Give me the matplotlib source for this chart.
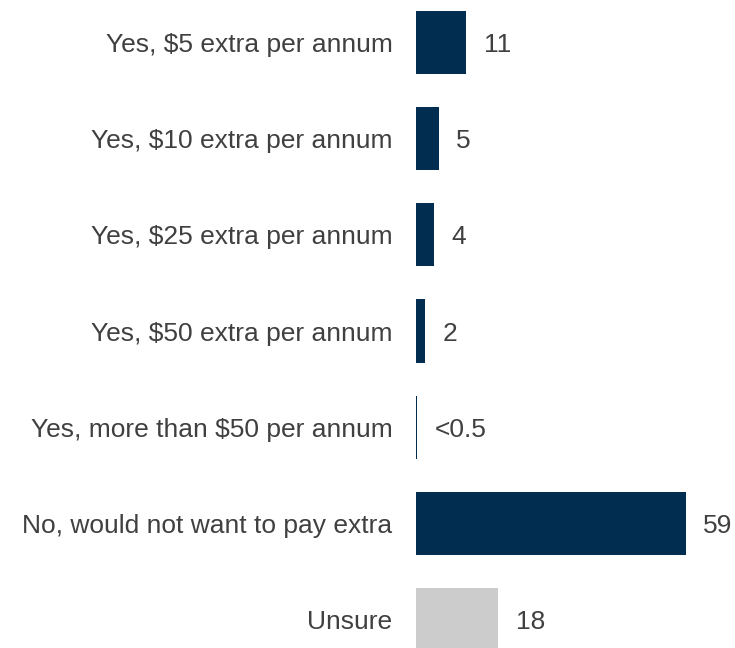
import matplotlib
matplotlib.use("Agg")
import matplotlib.pyplot as plt

categories = ["Yes, $5 extra per annum", "Yes, $10 extra per annum",
              "Yes, $25 extra per annum", "Yes, $50 extra per annum",
              "Yes, more than $50 per annum", "No, would not want to pay extra",
              "Unsure"]
values = [11, 5, 4, 2, 0.2, 59, 18]
value_labels = ["11", "5", "4", "2", "<0.5", "59", "18"]

NAVY = "#002D50"
GREY = "#CDCCCD"
TEXT = "#404040"
colors = [NAVY] * 6 + [GREY]

plt.rcParams["font.family"] = ["Liberation Sans", "DejaVu Sans"]

fig = plt.figure(figsize=(7.35, 6.48), dpi=100)
ax = fig.add_axes([416 / 735, 0, 270 / 735, 1])

ypos = list(range(len(categories)))
ax.barh(ypos, values, height=0.654, color=colors)

for y, v, lab in zip(ypos, values, value_labels):
    ax.annotate(lab, xy=(v, y), xytext=(12.5, 0), textcoords="offset points",
                ha="left", va="center_baseline", fontsize=19, color=TEXT,
                annotation_clip=False)

ax.set_xlim(0, 59)
ax.set_ylim(6 + 28 / 96.33, -42 / 96.33)
ax.set_yticks(ypos)
ax.set_yticklabels(categories, fontsize=19, color=TEXT, va="center_baseline")
ax.tick_params(axis="y", length=0, pad=17)
ax.set_xticks([])
for sp in ax.spines.values():
    sp.set_visible(False)

fig.savefig("out.png", dpi=100, facecolor="white")
